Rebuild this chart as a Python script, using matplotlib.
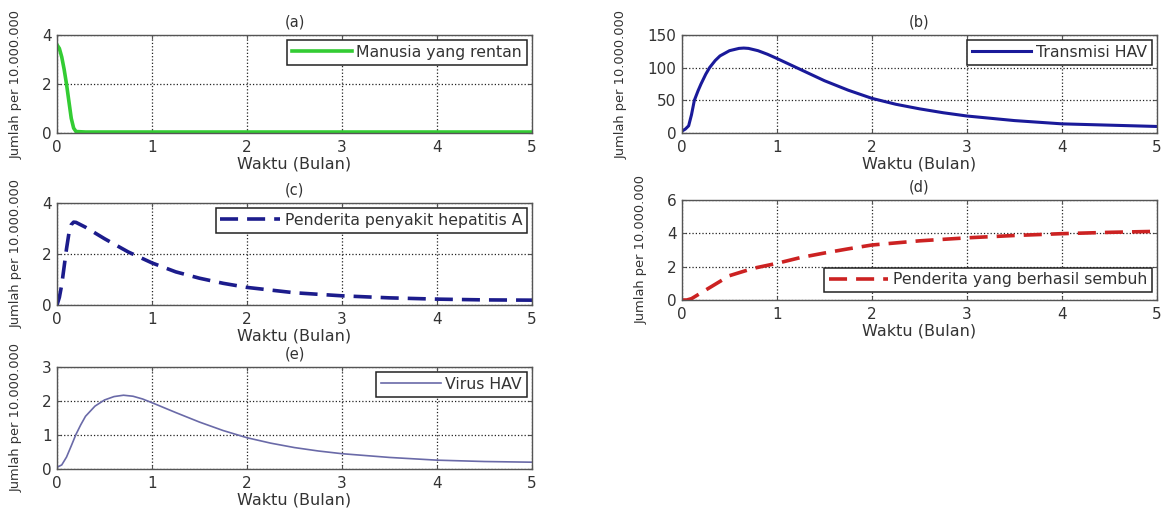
import matplotlib
matplotlib.use("Agg")
import matplotlib.pyplot as plt

# (a) Manusia yang rentan
t_a = [0, 0.025, 0.05, 0.075, 0.1, 0.125, 0.15, 0.175, 0.2, 0.3, 1, 2, 3, 4, 5]
y_a = [3.6, 3.45, 3.1, 2.6, 2.0, 1.3, 0.6, 0.2, 0.06, 0.04, 0.04, 0.04, 0.04, 0.04, 0.04]

# (b) Transmisi HAV
t_b = [0, 0.035, 0.07, 0.1, 0.13, 0.17, 0.2, 0.25, 0.29, 0.35, 0.4, 0.5, 0.6, 0.65,
       0.7, 0.8, 0.9, 1.0, 1.25, 1.5, 1.75, 2.0, 2.25, 2.5, 2.75, 3.0, 3.5, 4.0, 4.5, 5.0]
y_b = [3, 6, 11, 28, 50, 65, 75, 90, 100, 111, 118, 126, 129.5, 130,
       129.5, 126, 120.5, 114, 97, 80, 65.5, 53, 44, 37, 31, 26, 19, 14, 12, 10]

# (c) Penderita penyakit hepatitis A
t_c = [0, 0.025, 0.05, 0.075, 0.1, 0.125, 0.15, 0.175, 0.2, 0.3, 0.5, 0.75, 1.0,
       1.25, 1.5, 1.75, 2.0, 2.5, 3.0, 3.5, 4.0, 4.5, 5.0]
y_c = [0, 0.3, 0.8, 1.5, 2.2, 2.8, 3.15, 3.25, 3.24, 3.05, 2.6, 2.08, 1.65,
       1.3, 1.05, 0.85, 0.69, 0.48, 0.36, 0.28, 0.23, 0.2, 0.19]

# (d) Penderita yang berhasil sembuh
t_d = [0, 0.05, 0.1, 0.25, 0.5, 0.75, 1.0, 1.25, 1.5, 1.75, 2.0, 2.5, 3.0, 3.5, 4.0, 4.5, 5.0]
y_d = [0, 0.0, 0.08, 0.6, 1.46, 1.9, 2.2, 2.55, 2.82, 3.07, 3.3, 3.55, 3.73, 3.87, 3.98, 4.06, 4.12]

# (e) Virus HAV
t_e = [0, 0.05, 0.1, 0.15, 0.2, 0.25, 0.3, 0.4, 0.5, 0.6, 0.7, 0.8, 0.9, 1.0, 1.25,
       1.5, 1.75, 2.0, 2.25, 2.5, 2.75, 3.0, 3.5, 4.0, 4.5, 5.0]
y_e = [0.05, 0.12, 0.35, 0.68, 1.02, 1.3, 1.55, 1.85, 2.03, 2.13, 2.17, 2.14, 2.06, 1.95, 1.66,
       1.38, 1.13, 0.92, 0.76, 0.63, 0.53, 0.45, 0.34, 0.26, 0.22, 0.2]

x_ticks = [0, 1, 2, 3, 4, 5]
txt = '#333333'

plt.rcParams['font.family'] = ['DejaVu Sans']
plt.rcParams['text.color'] = txt

fig = plt.figure(figsize=(11.63, 5.17), dpi=100)

W = 475 / 1163
panels = [
    # title, rect, t, y, yticks, style, label, legend loc, anchor
    ('(a)', (57 / 1163, 1 - 133 / 517, W, 98 / 517), t_a, y_a, [0, 2, 4],
     dict(color='#33cc33', lw=2.6, ls='-'), 'Manusia yang rentan', 'upper right', None),
    ('(b)', (682 / 1163, 1 - 133 / 517, W, 98 / 517), t_b, y_b, [0, 50, 100, 150],
     dict(color='#1a1a9a', lw=2.2, ls='-'), 'Transmisi HAV', 'upper right', None),
    ('(c)', (57 / 1163, 1 - 305 / 517, W, 102 / 517), t_c, y_c, [0, 2, 4],
     dict(color='#1c1c8c', lw=2.6, ls=(0, (5, 2.5))), 'Penderita penyakit hepatitis A', 'upper right', None),
    ('(d)', (682 / 1163, 1 - 300 / 517, W, 100 / 517), t_d, y_d, [0, 2, 4, 6],
     dict(color='#cc2222', lw=2.6, ls=(0, (5, 2.5))), 'Penderita yang berhasil sembuh', 'lower right', (0.99, 0.08)),
    ('(e)', (57 / 1163, 1 - 469 / 517, W, 102 / 517), t_e, y_e, [0, 1, 2, 3],
     dict(color='#6a6aa8', lw=1.2, ls='-'), 'Virus HAV', 'upper right', None),
]

for title, rect, t, y, yt, style, label, loc, anchor in panels:
    ax = fig.add_axes(rect)
    ax.plot(t, y, label=label, **style)
    ax.set_xlim(0, 5)
    ax.set_ylim(yt[0], yt[-1])
    ax.set_xticks(x_ticks)
    ax.set_yticks(yt)
    ax.grid(True, ls=':', color='#222222', lw=0.9)
    ax.tick_params(direction='in', length=3, top=True, right=True,
                   labelsize=11, labelcolor=txt, color='#555555')
    ax.tick_params(axis='x', pad=5)
    ax.tick_params(axis='y', pad=4)
    for sp in ax.spines.values():
        sp.set_color('#555555')
        sp.set_linewidth(1.0)
    ax.set_title(title, fontsize=10.5, pad=6, color=txt)
    ax.set_xlabel('Waktu (Bulan)', fontsize=11.5, labelpad=1, color=txt)
    ax.set_ylabel('Jumlah per 10.000.000', fontsize=9.4, labelpad=14, color=txt)
    kw = dict(loc=loc, fontsize=11.3, fancybox=False, edgecolor='#222222', framealpha=1,
              handlelength=3.8, handletextpad=0.3, borderpad=0.3, borderaxespad=0.33)
    if anchor is not None:
        kw['bbox_to_anchor'] = anchor
        kw['borderaxespad'] = 0
    leg = ax.legend(**kw)
    leg.get_frame().set_linewidth(1.1)

fig.savefig('out.png', dpi=100)
